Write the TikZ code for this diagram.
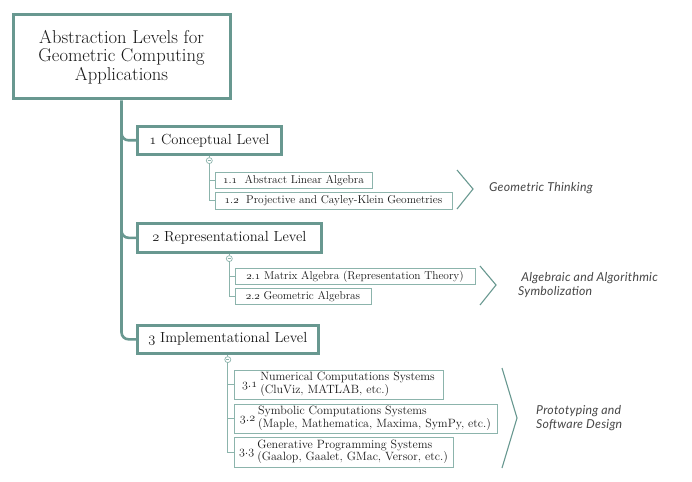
\documentclass[tikz,border=0pt]{standalone}
\usepackage{fontspec}
\newfontfamily\sidefont{Lato}[LetterSpace=2]
\usetikzlibrary{calc}
\definecolor{teal1}{RGB}{104,152,144}
\definecolor{teal2}{RGB}{140,180,172}
\definecolor{txt}{RGB}{25,25,25}
\definecolor{side}{RGB}{70,70,70}
\newcommand\osn[1]{{\usefont{OML}{cmm}{m}{it}#1}}
\newcommand\osnum[2]{\osn{#1}.\osn{#2}}
\begin{document}
\begin{tikzpicture}[x=1pt,y=-1pt,
 rootbox/.style={draw=teal1,line width=3pt,fill=white,anchor=north west,align=center,font=\fontsize{18.6}{18.5}\selectfont,text=txt,inner sep=0pt},
 lvl/.style={draw=teal1,line width=2.6pt,fill=white,anchor=north west,font=\fontsize{14.6}{16}\selectfont,text=txt,inner sep=0pt},
 sub/.style={draw=teal2,line width=0.9pt,fill=white,anchor=north west,font=\fontsize{11.4}{12.5}\selectfont,text=txt,inner sep=0pt},
 subb/.style={sub,font=\fontsize{12}{12.8}\selectfont},
 trunk/.style={teal1,line width=2.6pt},
 thin/.style={teal2,line width=0.9pt},
 chev/.style={teal1,line width=1.1pt},
 toggle/.style={circle,draw=teal2,fill=white,minimum size=6pt,inner sep=0pt,line width=0.7pt,
   path picture={\draw[teal2,line width=0.5pt] ([xshift=-1.6pt]path picture bounding box.center) -- ([xshift=1.6pt]path picture bounding box.center);}},
 sidetxt/.style={font=\sidefont\itshape\fontsize{12.3}{14}\selectfont,text=side,align=left,anchor=west,inner sep=0pt}]

\useasboundingbox (0,0) rectangle (692,481);

% root
\node[rootbox,minimum width=217pt,minimum height=84pt] (root) at (11.5,13.5) {Abstraction Levels for\\Geometric Computing\\Applications};

% levels
\node[lvl,minimum width=144pt,minimum height=28pt] (L1) at (136,125) {\osn{1} Conceptual Level};
\node[lvl,minimum width=184pt,minimum height=29pt] (L2) at (136,222) {\osn{2} Representational Level};
\node[lvl,minimum width=181pt,minimum height=28pt] (L3) at (136,324) {\osn{3} Implementational Level};

% trunk and branches
\draw[trunk,rounded corners=7pt] (root.south) |- (L3.west);
\draw[trunk,rounded corners=7pt] ($(root.south |- L1.west)+(0,-12)$) |- (L1.west);
\draw[trunk,rounded corners=7pt] ($(root.south |- L2.west)+(0,-12)$) |- (L2.west);

% sub boxes
\node[sub,minimum width=157pt,minimum height=16.5pt] (S11) at (214.5,171.5) {\osnum{1}{1}\ \ Abstract Linear Algebra};
\node[sub,minimum width=237pt,minimum height=17pt] (S12) at (214.5,191.5) {\osnum{1}{2}\ \ Projective and Cayley-Klein Geometries};
\node[sub,minimum width=240pt,minimum height=16.5pt] (S21) at (234.5,267.5) {\osnum{2}{1} Matrix Algebra (Representation Theory)};
\node[sub,minimum width=136pt,minimum height=16.5pt] (S22) at (234.5,287.5) {\osnum{2}{2} Geometric Algebras};
\node[subb,minimum width=209pt,minimum height=29pt] (S31) at (233.5,369.5) {{\fontsize{13}{13}\selectfont\osnum{3}{1}}\hspace{3pt}\begin{tabular}{@{}l@{}}Numerical Computations Systems\\(CluViz, MATLAB, etc.)\end{tabular}};
\node[subb,minimum width=263pt,minimum height=29pt] (S32) at (233.5,403.5) {{\fontsize{13}{13}\selectfont\osnum{3}{2}}\hspace{3pt}\begin{tabular}{@{}l@{}}Symbolic Computations Systems\\(Maple, Mathematica, Maxima, SymPy, etc.)\end{tabular}};
\node[subb,minimum width=219pt,minimum height=30pt] (S33) at (233.5,436.5) {{\fontsize{13}{13}\selectfont\osnum{3}{3}}\hspace{3pt}\begin{tabular}{@{}l@{}}Generative Programming Systems\\(Gaalop, Gaalet, GMac, Versor, etc.)\end{tabular}};

% toggles and sub connectors
\node[toggle] (c1) at ($(L1.south)+(0,5)$) {};
\node[toggle] (c2) at ($(L2.south)+(0,5)$) {};
\node[toggle] (c3) at ($(L3.south)+(0,5)$) {};
\draw[thin] (L1.south) -- (c1.north);
\draw[thin] (L2.south) -- (c2.north);
\draw[thin] (L3.south) -- (c3.north);
\draw[thin] (c1.south) |- (S12.west);
\draw[thin] (c1.south |- S11.west) -- (S11.west);
\draw[thin] (c2.south) |- (S22.west);
\draw[thin] (c2.south |- S21.west) -- (S21.west);
\draw[thin] (c3.south) |- (S33.west);
\draw[thin] (c3.south |- S31.west) -- (S31.west);
\draw[thin] (c3.south |- S32.west) -- (S32.west);

% chevrons
\draw[chev] (457,170) -- (473,189) -- (457,209);
\draw[chev] (480,266) -- (496,285) -- (480,305);
\draw[chev] (502,368) -- (517,418) -- (502,468);

% side labels
\node[sidetxt] (g1) at (489,188) {Geometric Thinking};
\node[sidetxt] (g2) at (518,285) {\ Algebraic and Algorithmic\\Symbolization};
\node[sidetxt] (g3) at (536,418) {Prototyping and\\Software Design};
\end{tikzpicture}
\end{document}
